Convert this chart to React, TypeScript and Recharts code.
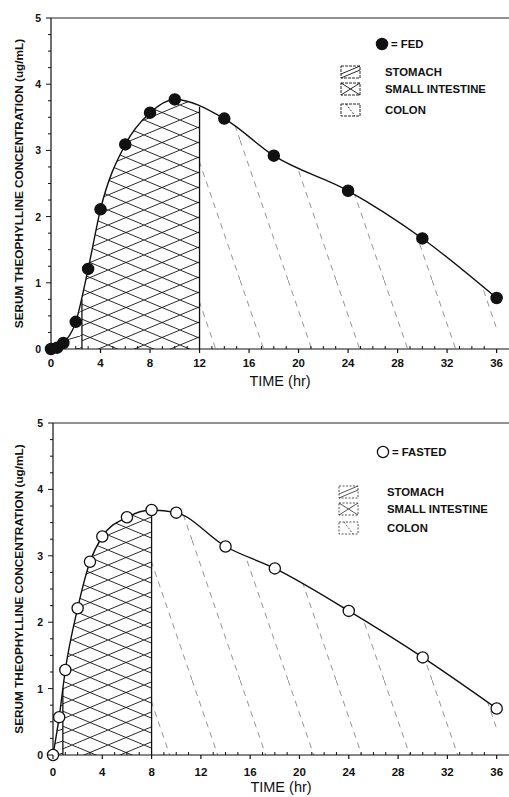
import React from 'react'
import {
  ComposedChart,
  Line,
  Area,
  XAxis,
  YAxis,
  ReferenceArea,
  ReferenceLine,
} from 'recharts'

// Tiempo (hr) y concentración sérica (ug/mL)
const fedTime = [0, 0.5, 1, 2, 3, 4, 6, 8, 10, 14, 18, 24, 30, 36]
const fedConc = [0, 0.02, 0.09, 0.41, 1.21, 2.11, 3.09, 3.57, 3.77, 3.48, 2.92, 2.39, 1.67, 0.77]
const fastedTime = [0, 0.5, 1, 2, 3, 4, 6, 8, 10, 14, 18, 24, 30, 36]
const fastedConc = [0, 0.57, 1.28, 2.21, 2.91, 3.29, 3.58, 3.69, 3.65, 3.14, 2.81, 2.17, 1.47, 0.7]

// límites estómago / intestino delgado / colon (hr) y altura de las divisiones
const fedBounds = [0, 2.5, 12, 37]
const fedDividerTops = [0.75, 3.66]
const fastedBounds = [0, 0.8, 8, 37]
const fastedDividerTops = [1.0, 3.69]

const regionNames = ['STOMACH', 'SMALL INTESTINE', 'COLON']

const xTicks = [0, 1, 2, 3, 4, 5, 6, 7, 8, 9, 10, 11, 12, 13, 14, 15, 16, 17, 18, 19, 20, 21, 22, 23, 24, 25, 26, 27, 28, 29, 30, 31, 32, 33, 34, 35, 36]
const xLabels = [0, 4, 8, 12, 16, 20, 24, 28, 32, 36]
const yTicks = [0, 0.25, 0.5, 0.75, 1, 1.25, 1.5, 1.75, 2, 2.25, 2.5, 2.75, 3, 3.25, 3.5, 3.75, 4, 4.25, 4.5, 4.75, 5]
const yLabels = [0, 1, 2, 3, 4, 5]

const FONT = '"Liberation Sans", Arial, sans-serif'

const XTick = (p: any) => {
  const v = p.payload.value
  const major = xLabels.includes(v)
  return (
    <g>
      {major ? (
        <line x1={p.x} x2={p.x} y1={p.y} y2={p.y + 4} stroke='#111' strokeWidth={1.2} />
      ) : (
        <line x1={p.x} x2={p.x} y1={p.y - 3} y2={p.y} stroke='#111' strokeWidth={1} />
      )}
      {major && (
        <text
          x={p.x}
          y={p.y + (p.gap ?? 15)}
          textAnchor='middle'
          dominantBaseline='central'
          fontSize={11.5}
          fontWeight='bold'
          fontFamily={FONT}
          fill='#111'
        >
          {v}
        </text>
      )}
    </g>
  )
}

const YTick = (p: any) => {
  const v = p.payload.value
  const major = yLabels.includes(v)
  return (
    <g>
      <line x1={p.x - (major ? 5 : 3)} x2={p.x} y1={p.y} y2={p.y} stroke='#111' strokeWidth={1} />
      {major && (
        <text
          x={p.x - 10}
          y={p.y}
          textAnchor='end'
          dominantBaseline='central'
          fontSize={10.5}
          fontWeight='bold'
          fontFamily={FONT}
          fill='#111'
        >
          {v}
        </text>
      )}
    </g>
  )
}

type PanelProps = {
  id: string
  time: number[]
  conc: number[]
  bounds: number[]
  dividerTops: number[]
  filled: boolean
  legendLabel: string
  top: number
  height: number
  marginTop: number
  axisWidth: number
  xAxisHeight: number
  labelGap: number
  timeOffset: number
  legend: { dotX: number; dotY: number; swX: number; swY: number[]; textX: number }
}

function Panel(props: PanelProps) {
  const { id, time, conc, bounds, dividerTops, filled } = props
  const data = time.map((t, i) => ({ t, c: conc[i] }))
  const fills = [`url(#${id}-stomach)`, `url(#${id}-si)`, `url(#${id}-colon)`]
  const lg = props.legend

  return (
    <div style={{ position: 'absolute', left: 0, top: props.top, width: 509, height: props.height }}>
      <style>
        {[0, 1, 2].map((i) => `.${id}-a${i} { clip-path: url(#${id}-clip${i}); }`).join('\n')}
      </style>
      <ComposedChart
        width={509}
        height={props.height}
        data={data}
        margin={{ top: props.marginTop, right: 0, left: 0, bottom: 0 }}
      >
        <defs>
          <pattern id={`${id}-stomach`} width={40} height={12} patternUnits='userSpaceOnUse'>
            <path d='M0,12 L40,0' stroke='#111' strokeWidth={0.9} />
          </pattern>
          <pattern id={`${id}-si`} width={36} height={15} patternUnits='userSpaceOnUse'>
            <path d='M0,0 L36,15 M0,15 L36,0' stroke='#111' strokeWidth={0.9} />
          </pattern>
          <pattern id={`${id}-colon`} width={48} height={140} patternUnits='userSpaceOnUse'>
            <path d='M0,0 L48,140' stroke='#777' strokeWidth={0.8} strokeDasharray='6 5' />
          </pattern>
        </defs>
        <XAxis
          dataKey='t'
          type='number'
          domain={[0, 37]}
          ticks={xTicks}
          interval={0}
          height={props.xAxisHeight}
          tickSize={0}
          tickMargin={0}
          tickLine={false}
          axisLine={{ stroke: '#111', strokeWidth: 1.2 }}
          tick={<XTick gap={props.labelGap} />}
          label={{
            value: 'TIME (hr)',
            position: 'insideTop',
            offset: props.timeOffset,
            style: { fontSize: 14.5, fontFamily: FONT, fill: '#111' },
          }}
        />
        <YAxis
          type='number'
          domain={[0, 5]}
          ticks={yTicks}
          interval={0}
          width={props.axisWidth}
          tickSize={0}
          tickMargin={0}
          tickLine={false}
          axisLine={{ stroke: '#111', strokeWidth: 1.2 }}
          tick={<YTick />}
          label={{
            value: 'SERUM THEOPHYLLINE CONCENTRATION (ug/mL)',
            angle: -90,
            position: 'insideLeft',
            offset: 19,
            style: { textAnchor: 'middle', fontSize: 11.8, fontWeight: 'bold', fontFamily: FONT, fill: '#111' },
          }}
        />
        {[0, 1, 2].map((i) => (
          <ReferenceArea
            key={`clip${i}`}
            x1={bounds[i]}
            x2={bounds[i + 1]}
            y1={0}
            y2={5}
            shape={(p: any) => (
              <defs>
                <clipPath id={`${id}-clip${i}`}>
                  <rect x={p.x} y={p.y} width={p.width} height={p.height} />
                </clipPath>
              </defs>
            )}
          />
        ))}
        {[0, 1, 2].map((i) => (
          <Area
            key={`area${i}`}
            name={regionNames[i]}
            className={`${id}-a${i}`}
            dataKey='c'
            type='monotone'
            stroke='none'
            fill={fills[i]}
            fillOpacity={1}
            isAnimationActive={false}
            activeDot={false}
          />
        ))}
        <ReferenceLine y={5} stroke='#222' strokeWidth={1} />
        {dividerTops.map((h, i) => (
          <ReferenceLine
            key={`div${i}`}
            segment={[
              { x: bounds[i + 1], y: 0 },
              { x: bounds[i + 1], y: h },
            ]}
            stroke='#111'
            strokeWidth={1.3}
          />
        ))}
        <Line
          dataKey='c'
          type='monotone'
          stroke='#111'
          strokeWidth={1.4}
          isAnimationActive={false}
          activeDot={false}
          dot={(p: any) => (
            <circle
              key={`dot${p.index}`}
              cx={p.cx}
              cy={p.cy}
              r={5.6}
              fill={filled ? '#111' : '#fff'}
              stroke='#111'
              strokeWidth={1.3}
            />
          )}
        />
      </ComposedChart>

      {/* leyenda */}
      <svg
        width={509}
        height={props.height}
        style={{ position: 'absolute', left: 0, top: 0, pointerEvents: 'none' }}
      >
        <circle
          cx={lg.dotX}
          cy={lg.dotY}
          r={5.6}
          fill={filled ? '#111' : '#fff'}
          stroke='#111'
          strokeWidth={1.3}
        />
        <text
          x={lg.dotX + 9}
          y={lg.dotY}
          dominantBaseline='central'
          fontSize={11.3}
          fontWeight='bold'
          fontFamily={FONT}
          fill='#111'
        >
          {`= ${props.legendLabel}`}
        </text>
        {regionNames.map((name, i) => {
          const y = lg.swY[i]
          const x = lg.swX
          const dash = filled ? undefined : '2 1.5'
          const c = filled ? '#111' : '#444'
          return (
            <g key={name}>
              <rect x={x} y={y - 6} width={19} height={12} fill='none' stroke={c} strokeWidth={0.9} strokeDasharray={dash || '3 1'} />
              {i === 0 && (
                <path d={`M${x},${y + 2} L${x + 19},${y - 6} M${x},${y + 6} L${x + 19},${y - 2}`} stroke={c} strokeWidth={0.9} />
              )}
              {i === 1 && (
                <path d={`M${x},${y - 6} L${x + 19},${y + 6} M${x},${y + 6} L${x + 19},${y - 6}`} stroke={c} strokeWidth={0.9} />
              )}
              {i === 2 && (
                <path d={`M${x + 5},${y - 6} L${x + 14},${y + 6}`} stroke={c} strokeWidth={0.8} strokeDasharray='2 1.5' />
              )}
              <text
                x={lg.textX}
                y={y}
                dominantBaseline='central'
                fontSize={11.3}
                fontWeight='bold'
                fontFamily={FONT}
                fill='#111'
              >
                {name}
              </text>
            </g>
          )
        })}
      </svg>
    </div>
  )
}

export default function App() {
  return (
    <div style={{ position: 'absolute', left: 0, top: 0, width: 509, height: 797, background: '#fff' }}>
      <Panel
        id='fed'
        time={fedTime}
        conc={fedConc}
        bounds={fedBounds}
        dividerTops={fedDividerTops}
        filled
        legendLabel='FED'
        top={0}
        height={400}
        marginTop={18}
        axisWidth={51}
        xAxisHeight={51}
        labelGap={14}
        timeOffset={27}
        legend={{ dotX: 382, dotY: 44, swX: 341, swY: [72, 89, 110], textX: 385 }}
      />
      <Panel
        id='fasted'
        time={fastedTime}
        conc={fastedConc}
        bounds={fastedBounds}
        dividerTops={fastedDividerTops}
        filled={false}
        legendLabel='FASTED'
        top={400}
        height={397}
        marginTop={23}
        axisWidth={53}
        xAxisHeight={42}
        labelGap={17}
        timeOffset={27}
        legend={{ dotX: 383, dotY: 52, swX: 339, swY: [92, 109, 128], textX: 387 }}
      />
    </div>
  )
}
